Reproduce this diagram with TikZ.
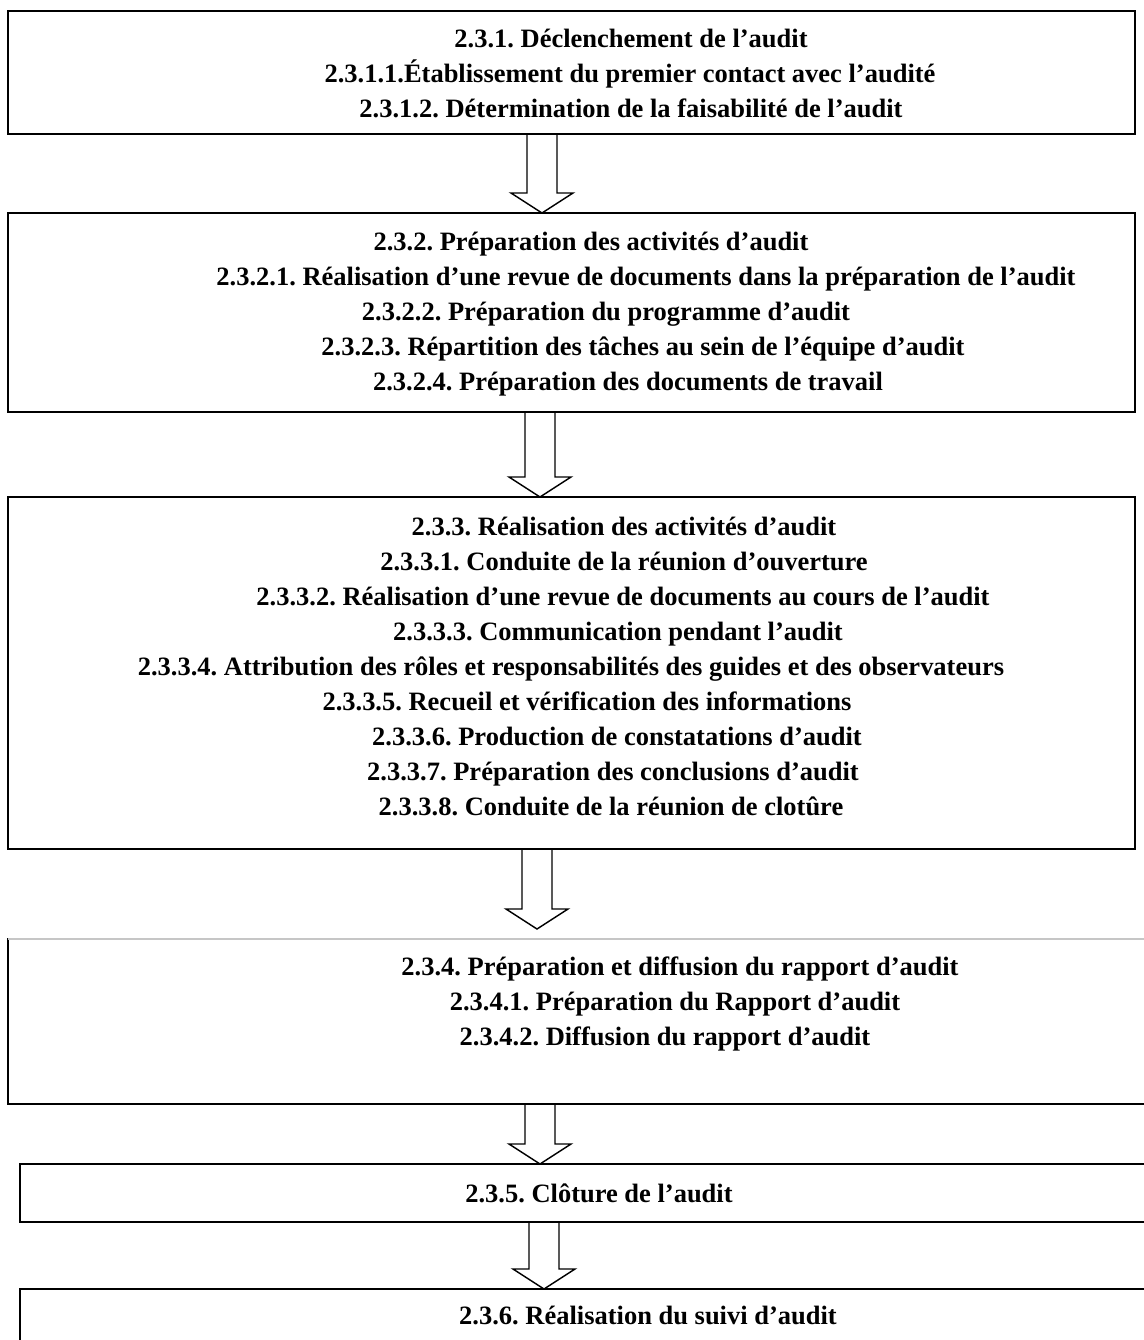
\documentclass[tikz,border=0pt]{standalone}
\usepackage{fontspec}
\setmainfont{Liberation Serif}
\usepackage{tikz}
\usetikzlibrary{calc}
\frenchspacing
\newcommand{\pxu}{0.453pt}
% hollow block arrow: from node, to node, x offset, gap above target
\newcommand{\hollowarrow}[4]{%
  \coordinate (as) at ($(#1.south)+(#3,0)$);
  \coordinate (at) at ($(#2.north -| #1.south)+(#3,-#4)$);
  \draw[blockarrow] ($(as)+(-15,0)$) -- ($(at)+(-15,-20)$) -- ($(at)+(-31,-20)$) -- (at)
    -- ($(at)+(31,-20)$) -- ($(at)+(15,-20)$) -- ($(as)+(15,0)$);}

\begin{document}
\begin{tikzpicture}[
    x=\pxu, y=-\pxu,
    box/.style={rectangle, draw, line width=0.9pt, inner sep=0pt, outer sep=0pt, anchor=north west},
    txt/.style={anchor=base, inner sep=0pt, font=\fontsize{12}{14}\selectfont\bfseries},
    blockarrow/.style={line width=0.65pt, line join=miter}
]
\clip (0,0) rectangle (1144,1340);
\node[box, minimum width=1127*\pxu, minimum height=123*\pxu] (box1) at (8,11) {};
\node[box, minimum width=1127*\pxu, minimum height=199*\pxu] (box2) at (8,213) {};
\node[box, minimum width=1127*\pxu, minimum height=352*\pxu] (box3) at (8,497) {};
\node[box, minimum width=1152*\pxu, minimum height=165*\pxu] (box4) at (8,939) {};
\node[box, minimum width=1140*\pxu, minimum height=58*\pxu] (box5) at (20,1164) {};
\node[box, minimum width=1140*\pxu, minimum height=120*\pxu] (box6) at (20,1289) {};
\draw[gray!45, line width=0.9pt] (box4.north west) -- (box4.north east);

\node[txt] (s231) at (631,47) {2.3.1. Déclenchement de l’audit};
\node[txt] (s2311) at (630,82) {2.3.1.1.Établissement du premier contact avec l’audité};
\node[txt] (s2312) at (631,117) {2.3.1.2. Détermination de la faisabilité de l’audit};

\node[txt] (s232) at (591,250) {2.3.2. Préparation des activités d’audit};
\node[txt] (s2321) at (646,285) {2.3.2.1. Réalisation d’une revue de documents dans la préparation de l’audit};
\node[txt] (s2322) at (606,320) {2.3.2.2. Préparation du programme d’audit};
\node[txt] (s2323) at (643,355) {2.3.2.3. Répartition des tâches au sein de l’équipe d’audit};
\node[txt] (s2324) at (628,390) {2.3.2.4. Préparation des documents de travail};

\node[txt] (s233) at (624,535) {2.3.3. Réalisation des activités d’audit};
\node[txt] (s2331) at (624,570) {2.3.3.1. Conduite de la réunion d’ouverture};
\node[txt] (s2332) at (623,605) {2.3.3.2. Réalisation d’une revue de documents au cours de l’audit};
\node[txt] (s2333) at (618,640) {2.3.3.3. Communication pendant l’audit};
\node[txt] (s2334) at (571,675) {2.3.3.4. Attribution des rôles et responsabilités des guides et des observateurs};
\node[txt] (s2335) at (587,710) {2.3.3.5. Recueil et vérification des informations};
\node[txt] (s2336) at (617,745) {2.3.3.6. Production de constatations d’audit};
\node[txt] (s2337) at (613,780) {2.3.3.7. Préparation des conclusions d’audit};
\node[txt] (s2338) at (611,815) {2.3.3.8. Conduite de la réunion de clotûre};

\node[txt] (s234) at (680,975) {2.3.4. Préparation et diffusion du rapport d’audit};
\node[txt] (s2341) at (675,1010) {2.3.4.1. Préparation du Rapport d’audit};
\node[txt] (s2342) at (665,1045) {2.3.4.2. Diffusion du rapport d’audit};

\node[txt] (s235) at (599,1202) {2.3.5. Clôture de l’audit};

\node[txt] (s236) at (648,1324) {2.3.6. Réalisation du suivi d’audit};

\hollowarrow{box1}{box2}{-29.5}{0}
\hollowarrow{box2}{box3}{-31.5}{0}
\hollowarrow{box3}{box4}{-34.5}{10}
\hollowarrow{box4}{box5}{-44}{0}
\hollowarrow{box5}{box6}{-46}{0}
\end{tikzpicture}
\end{document}
